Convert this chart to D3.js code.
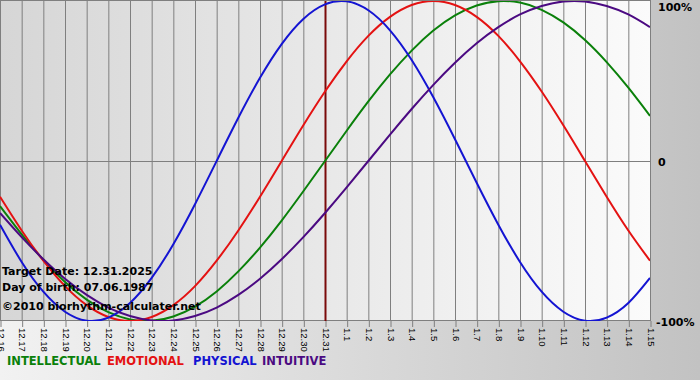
<!DOCTYPE html>
<html>
<head>
<meta charset="utf-8">
<script src="https://cdn.jsdelivr.net/npm/d3@7"></script>
<style>
html,body{margin:0;padding:0;}
svg{display:block;}
</style>
</head>
<body>
<svg id="chart" width="700" height="380"></svg>
<script>
// ---- data ----
const dayLabels = ["12.16","12.17","12.18","12.19","12.20","12.21","12.22","12.23","12.24","12.25","12.26","12.27","12.28","12.29","12.30","12.31",
  "1.1","1.2","1.3","1.4","1.5","1.6","1.7","1.8","1.9","1.10","1.11","1.12","1.13","1.14","1.15"];
const physical = [-0.398,-0.631,-0.817,-0.942,-0.998,-0.979,-0.888,-0.731,-0.520,-0.270,0.000,0.270,0.520,0.731,0.888,0.979,0.998,0.942,0.817,0.631,0.398,0.136,-0.136,-0.398,-0.631,-0.817,-0.942,-0.998,-0.979,-0.888,-0.731];
const emotional = [-0.223,-0.434,-0.623,-0.782,-0.901,-0.975,-1.000,-0.975,-0.901,-0.782,-0.623,-0.434,-0.223,0.000,0.223,0.434,0.623,0.782,0.901,0.975,1.000,0.975,0.901,0.782,0.623,0.434,0.223,0.000,-0.223,-0.434,-0.623];
const intellectual = [-0.282,-0.458,-0.618,-0.756,-0.866,-0.945,-0.990,-0.999,-0.972,-0.910,-0.815,-0.690,-0.541,-0.372,-0.189,0.000,0.189,0.372,0.541,0.690,0.815,0.910,0.972,0.999,0.990,0.945,0.866,0.756,0.618,0.458,0.282];
const intuitive = [-0.325,-0.476,-0.614,-0.736,-0.837,-0.916,-0.969,-0.997,-0.997,-0.969,-0.916,-0.837,-0.736,-0.614,-0.476,-0.325,-0.165,0.000,0.165,0.325,0.476,0.614,0.736,0.837,0.916,0.969,0.997,0.997,0.969,0.916,0.837];
const targetDay = "12.31";
const yTicks = [1, 0, -1];
const yTickLabels = ["100%", "0", "-100%"];
const infoLines = ["Target Date: 12.31.2025", "Day of birth: 07.06.1987", "\u00a92010 biorhythm-calculater.net"];
const legendNames = ["INTELLECTUAL", "EMOTIONAL", "PHYSICAL", "INTUITIVE"];

// ---- layout ----
const W = 700, H = 380;
const pL = 0, pR = 650, pT = 1, pB = 321;
const svg = d3.select("#chart");
const defs = svg.append("defs");

const bgGrad = defs.append("linearGradient").attr("id","bgGrad").attr("x1","0").attr("x2","1").attr("y1","0").attr("y2","0");
bgGrad.append("stop").attr("offset","0").attr("stop-color","#f2f2f2");
bgGrad.append("stop").attr("offset","1").attr("stop-color","#c2c2c2");
const plotGrad = defs.append("linearGradient").attr("id","plotGrad").attr("x1","0").attr("x2","1").attr("y1","0").attr("y2","0");
plotGrad.append("stop").attr("offset","0").attr("stop-color","#d6d6d6");
plotGrad.append("stop").attr("offset","1").attr("stop-color","#fbfbfb");
defs.append("clipPath").attr("id","plotClip").append("rect")
  .attr("x", pL).attr("y", pT).attr("width", pR-pL).attr("height", pB-pT);

svg.append("rect").attr("width", W).attr("height", H).attr("fill","url(#bgGrad)");
svg.append("rect").attr("x", pL).attr("y", pT).attr("width", pR-pL).attr("height", pB-pT).attr("fill","url(#plotGrad)");

const x = d3.scalePoint().domain(dayLabels).range([pL, pR]);
const y = d3.scaleLinear().domain([-1, 1]).range([pB, pT]);

// vertical grid
svg.append("g").selectAll("line").data(dayLabels).join("line")
  .attr("x1", d => x(d)+0.5).attr("x2", d => x(d)+0.5)
  .attr("y1", pT).attr("y2", pB)
  .attr("stroke", "#7f7f7f").attr("stroke-width", 1);
// zero line
svg.append("line").attr("x1", pL).attr("x2", pR).attr("y1", Math.round(y(0))+0.5).attr("y2", Math.round(y(0))+0.5)
  .attr("stroke", "#7f7f7f");
// border
svg.append("rect").attr("x", pL+0.5).attr("y", pT-0.5).attr("width", pR-pL).attr("height", pB-pT)
  .attr("fill","none").attr("stroke","#7f7f7f");

// x axis
const xAxis = d3.axisBottom(x).tickSize(6).tickPadding(3);
const gx = svg.append("g").attr("transform", `translate(0.5,${pB})`).call(xAxis);
gx.select(".domain").remove();
gx.selectAll(".tick line").attr("stroke", "#7f7f7f");
gx.selectAll(".tick text")
  .attr("transform", "rotate(90)")
  .attr("x", 7).attr("y", 0).attr("dy", "0.35em")
  .attr("text-anchor", "start")
  .attr("font-family", "Liberation Sans, Arial, sans-serif")
  .attr("font-size", 9.5)
  .attr("fill", "#000");

// target line
svg.append("line").attr("x1", x(targetDay)+0.5).attr("x2", x(targetDay)+0.5).attr("y1", pT).attr("y2", pB)
  .attr("stroke", "#7a0a0a").attr("stroke-width", 2);

// series
const series = [
  {name: legendNames[0], values: intellectual, color: "#0a800a"},
  {name: legendNames[1], values: emotional, color: "#e41212"},
  {name: legendNames[2], values: physical, color: "#1414d2"},
  {name: legendNames[3], values: intuitive, color: "#4b0a82"}
];
const line = d3.line().x((d,i) => x(dayLabels[i])).y(d => y(d)).curve(d3.curveNatural);
const gl = svg.append("g").attr("clip-path","url(#plotClip)");
gl.selectAll("path").data(series).join("path")
  .attr("d", d => line(d.values)).attr("fill","none")
  .attr("stroke", d => d.color).attr("stroke-width", 2);

// y axis labels on right
const yLabY = [11, Math.round(y(0))+5, pB+5];
svg.append("g").selectAll("text").data(yTicks).join("text")
  .attr("x", (d,i) => i===2 ? 656 : 658)
  .attr("y", (d,i) => yLabY[i])
  .attr("font-family","DejaVu Sans, Verdana, sans-serif").attr("font-weight","bold").attr("font-size", 11)
  .attr("fill","#000")
  .text((d,i) => yTickLabels[i]);

// info text
svg.append("g").selectAll("text").data(infoLines).join("text")
  .attr("x", 2).attr("y", (d,i) => [275, 291, 310][i])
  .attr("font-family","DejaVu Sans, Verdana, sans-serif").attr("font-weight","bold").attr("font-size", 11)
  .attr("fill","#000")
  .text(d => d);

// legend
const legX = [7, 107, 193, 262];
svg.append("g").selectAll("text").data(series).join("text")
  .attr("x", (d,i) => legX[i]).attr("y", 365)
  .attr("font-family","DejaVu Sans, Verdana, sans-serif").attr("font-weight","bold").attr("font-size", 11.5)
  .attr("fill", d => d.color)
  .text(d => d.name);
</script>
</body>
</html>
